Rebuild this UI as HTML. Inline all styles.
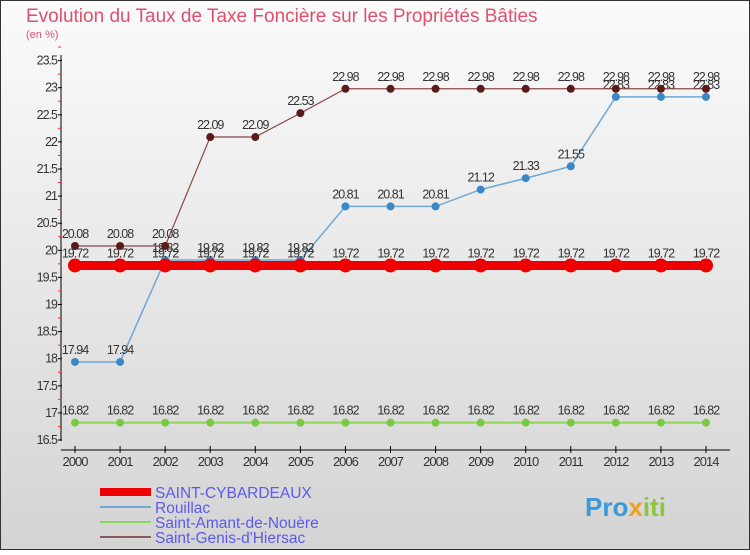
<!DOCTYPE html>
<html><head><meta charset="utf-8"><style>
body{margin:0;width:750px;height:550px;overflow:hidden;font-family:"Liberation Sans",sans-serif}
</style></head><body>
<svg width="750" height="550" xmlns="http://www.w3.org/2000/svg">
<defs><linearGradient id="bg" x1="0" y1="0" x2="0" y2="1"><stop offset="0" stop-color="#fbfbfb"/><stop offset="1" stop-color="#d4d4d4"/></linearGradient></defs>
<rect x="0.5" y="0.5" width="749" height="549" fill="url(#bg)" stroke="#333"/>
<text x="26" y="22" font-size="19" fill="#e0506e">Evolution du Taux de Taxe Foncière sur les Propriétés Bâties</text>
<text x="26" y="38" font-size="11" fill="#e0506e">(en %)</text>
<g id="axes"></g><g id="series"></g><g id="legend"></g>
<text x="585" y="516" font-size="26" font-weight="bold" fill="#3a9ad8">Pro<tspan fill="#f0a020">x</tspan><tspan fill="#8cc63f">iti</tspan></text>
</svg>
<script>
const years=[2000,2001,2002,2003,2004,2005,2006,2007,2008,2009,2010,2011,2012,2013,2014];
const yTicks=[16.5,17,17.5,18,18.5,19,19.5,20,20.5,21,21.5,22,22.5,23,23.5];
const saintCybardeaux=[19.72,19.72,19.72,19.72,19.72,19.72,19.72,19.72,19.72,19.72,19.72,19.72,19.72,19.72,19.72];
const rouillac=[17.94,17.94,19.82,19.82,19.82,19.82,20.81,20.81,20.81,21.12,21.33,21.55,22.83,22.83,22.83];
const saintAmant=[16.82,16.82,16.82,16.82,16.82,16.82,16.82,16.82,16.82,16.82,16.82,16.82,16.82,16.82,16.82];
const saintGenis=[20.08,20.08,20.08,22.09,22.09,22.53,22.98,22.98,22.98,22.98,22.98,22.98,22.98,22.98,22.98];
const seriesNames=["SAINT-CYBARDEAUX","Rouillac","Saint-Amant-de-Nouère","Saint-Genis-d'Hiersac"];
const NS="http://www.w3.org/2000/svg";
const X=i=>75+i*(706-75)/14;
const Y=v=>440-(v-16.5)*54.2;
function mk(tag,attrs,parent,txt){const e=document.createElementNS(NS,tag);for(const k in attrs)e.setAttribute(k,attrs[k]);if(txt!==undefined)e.textContent=txt;parent.appendChild(e);return e;}
const ax=document.getElementById('axes');
let yl=mk('line',{x1:61,y1:55,x2:61,y2:441,stroke:'#000'},ax);


yTicks.forEach(v=>{
 mk('line',{x1:58,y1:Y(v),x2:62,y2:Y(v),stroke:'#000'},ax);
 mk('line',{x1:58,y1:Y(v+0.25),x2:61,y2:Y(v+0.25),stroke:'#e33'},ax);
 const t=mk('text',{x:57,y:Y(v)+4,'text-anchor':'end','font-size':12.5,fill:'#333','letter-spacing':'-1'},ax,String(v));
 
 
});
let xl=mk('line',{x1:61,y1:450,x2:730,y2:450,stroke:'#000'},ax);


years.forEach((y,i)=>{
 mk('line',{x1:X(i),y1:446,x2:X(i),y2:453,stroke:'#000'},ax);
 const t=mk('text',{x:X(i),y:466,'text-anchor':'middle','font-size':13,fill:'#333','letter-spacing':'-1'},ax,String(y));
 
 
});
const sg=document.getElementById('series');
const specs=[[saintAmant,'#8fd45a','#7ac943',2,4,'saint-amant'],[rouillac,'#6fa8d6','#3a88c8',1.5,4,'rouillac'],[saintGenis,'#8a4a4a','#5a1a1a',1.2,4,'saint-genis'],[saintCybardeaux,'#ee0000','#ee0000',9,7,'saint-cybardeaux']];
specs.forEach(([d,lc,pc,w,r,n])=>{
 const g=mk('g',{},sg);
 
 
 const p=mk('polyline',{points:d.map((v,i)=>X(i)+','+Y(v)).join(' '),fill:'none',stroke:lc,'stroke-width':w},g);
 
 
 d.forEach((v,i)=>{
  const c=mk('circle',{cx:X(i),cy:Y(v),r:r,fill:pc},g);
  
  
  const t=mk('text',{x:X(i),y:Y(v)-8,'text-anchor':'middle','font-size':12.5,fill:'#333','letter-spacing':'-1'},g,String(v));
  
  
 });
});
const lg=document.getElementById('legend');
const lcol=['#ee0000','#6fa8d6','#8fd45a','#8a5a5a'],lw=[8,2,2,2];
seriesNames.forEach((s,i)=>{
 const y=492+i*15;
 const g=mk('g',{},lg);
 
 
 mk('line',{x1:100,y1:y,x2:151,y2:y,stroke:lcol[i],'stroke-width':lw[i]},g);
 mk('text',{x:155,y:y+6,'font-size':15.5,fill:'#5a5af0'},g,s);
});
</script>
</body></html>
